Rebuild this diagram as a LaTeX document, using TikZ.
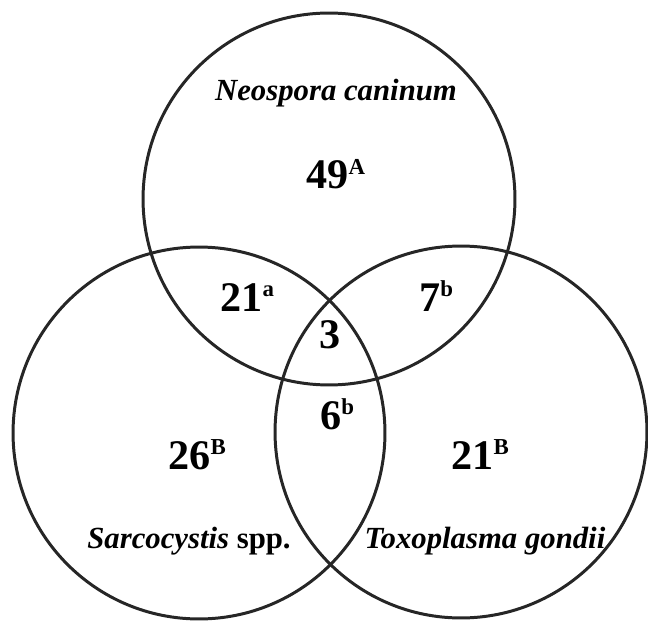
\documentclass[tikz,border=0pt]{standalone}
\usepackage{fontspec}
\setmainfont{Liberation Serif}
\newcommand\supmark[1]{\raisebox{8pt}{\fontsize{13}{13}\selectfont #1}}
\begin{document}
\begin{tikzpicture}[x=0.02cm,y=-0.02cm,
    set/.style={circle,draw=black!85,line width=1.7pt,minimum size=7.44cm,inner sep=0pt},
    count/.style={font=\fontsize{24}{24}\selectfont\bfseries,inner sep=0pt,anchor=base west},
    species/.style={font=\fontsize{17.5}{18}\selectfont\bfseries,inner sep=0pt,anchor=base}]
    \useasboundingbox (0,0) rectangle (648,621);
    % Sets:
    \node[set] (neo) at (329,199) {};
    \node[set] (sarc) at (199,433) {};
    \node[set] (toxo) at (461,432) {};
    % Set names:
    \node[species] (neoname) at (336,101) {\itshape Neospora caninum};
    \node[species] (sarcname) at (189,548) {\textit{Sarcocystis} spp.};
    \node[species] (toxoname) at (485,548) {\itshape Toxoplasma gondii};
    % Counts:
    \node[count] (nonly) at (306,189) {49\supmark{A}};
    \node[count] (ns) at (220,311) {21\supmark{a}};
    \node[count] (nt) at (419,311) {7\supmark{b}};
    \node[count,anchor=base] (nst) at (330,348) {3};
    \node[count] (st) at (320,429) {6\supmark{b}};
    \node[count] (sonly) at (168,469) {26\supmark{B}};
    \node[count] (tonly) at (451,469) {21\supmark{B}};
\end{tikzpicture}
\end{document}
